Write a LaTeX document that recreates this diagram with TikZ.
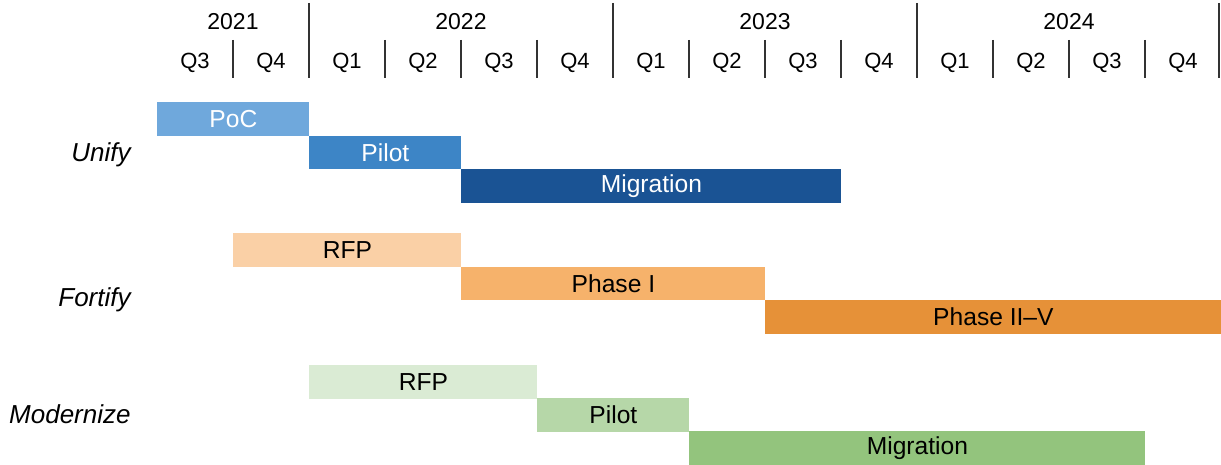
\documentclass[tikz,border=0pt]{standalone}
\usepackage{fontspec}
\setmainfont{Liberation Sans}
\definecolor{uA}{HTML}{6FA8DC}
\definecolor{uB}{HTML}{3D85C6}
\definecolor{uC}{HTML}{1A5394}
\definecolor{fA}{HTML}{FAD0A6}
\definecolor{fB}{HTML}{F6B26B}
\definecolor{fC}{HTML}{E69138}
\definecolor{mA}{HTML}{DAEBD4}
\definecolor{mB}{HTML}{B6D7A8}
\definecolor{mC}{HTML}{93C47D}
\definecolor{rule}{HTML}{333333}
\tikzset{
  bar/.style={draw=none, anchor=north west, inner sep=0pt, minimum height=16.75pt, font=\fontsize{12.3}{14}\selectfont},
  yearlbl/.style={font=\fontsize{11.5}{13}\selectfont, inner sep=0pt},
  qlbl/.style={font=\fontsize{11}{13}\selectfont, inner sep=0pt},
  rowlbl/.style={font=\fontsize{13}{15}\selectfont\itshape, anchor=east, inner sep=0pt},
  yline/.style={rule, line width=1pt},
  qline/.style={rule, line width=1pt}
}
\begin{document}
\begin{tikzpicture}[x=0.5pt,y=-0.5pt]
\useasboundingbox (0,0) rectangle (1221,465);
% year labels
\node[yearlbl] (y21) at (233,22) {2021};
\node[yearlbl] (y22) at (461,22) {2022};
\node[yearlbl] (y23) at (765,22) {2023};
\node[yearlbl] (y24) at (1069,22) {2024};
% year lines
\foreach \x in {309,613,917,1219} \draw[yline] (\x,3) -- (\x,78);
% quarter lines
\foreach \x in {233,385,461,537,689,765,841,993,1069,1145} \draw[qline] (\x,40) -- (\x,78);
% quarter labels
\foreach \x/\q [count=\i] in {195/Q3,271/Q4,347/Q1,423/Q2,499/Q3,575/Q4,651/Q1,727/Q2,803/Q3,879/Q4,955/Q1,1031/Q2,1107/Q3,1183/Q4}
  \node[qlbl] (q\i) at (\x,63) {\q};
% row labels
\node[rowlbl] (unify) at (131,155) {Unify};
\node[rowlbl] (fortify) at (131,300) {Fortify};
\node[rowlbl] (modernize) at (131,414) {Modernize};
% Unify bars
\node[bar, fill=uA, text=white, minimum width=76pt] (upoc) at (157,102) {PoC};
\node[bar, fill=uB, text=white, minimum width=76pt] (upilot) at (309,135.5) {Pilot};
\node[bar, fill=uC, text=white, minimum width=190pt] (umig) at (461,169) {Migration};
% Fortify bars
\node[bar, fill=fA, minimum width=114pt] (frfp) at (233,233) {RFP};
\node[bar, fill=fB, minimum width=152pt] (fph1) at (461,266.5) {Phase I};
\node[bar, fill=fC, minimum width=228pt] (fph2) at (765,300) {Phase II–V};
% Modernize bars
\node[bar, fill=mA, minimum width=114pt] (mrfp) at (309,365) {RFP};
\node[bar, fill=mB, minimum width=76pt] (mpilot) at (537,398) {Pilot};
\node[bar, fill=mC, minimum width=228pt] (mmig) at (689,431) {Migration};
\end{tikzpicture}
\end{document}
